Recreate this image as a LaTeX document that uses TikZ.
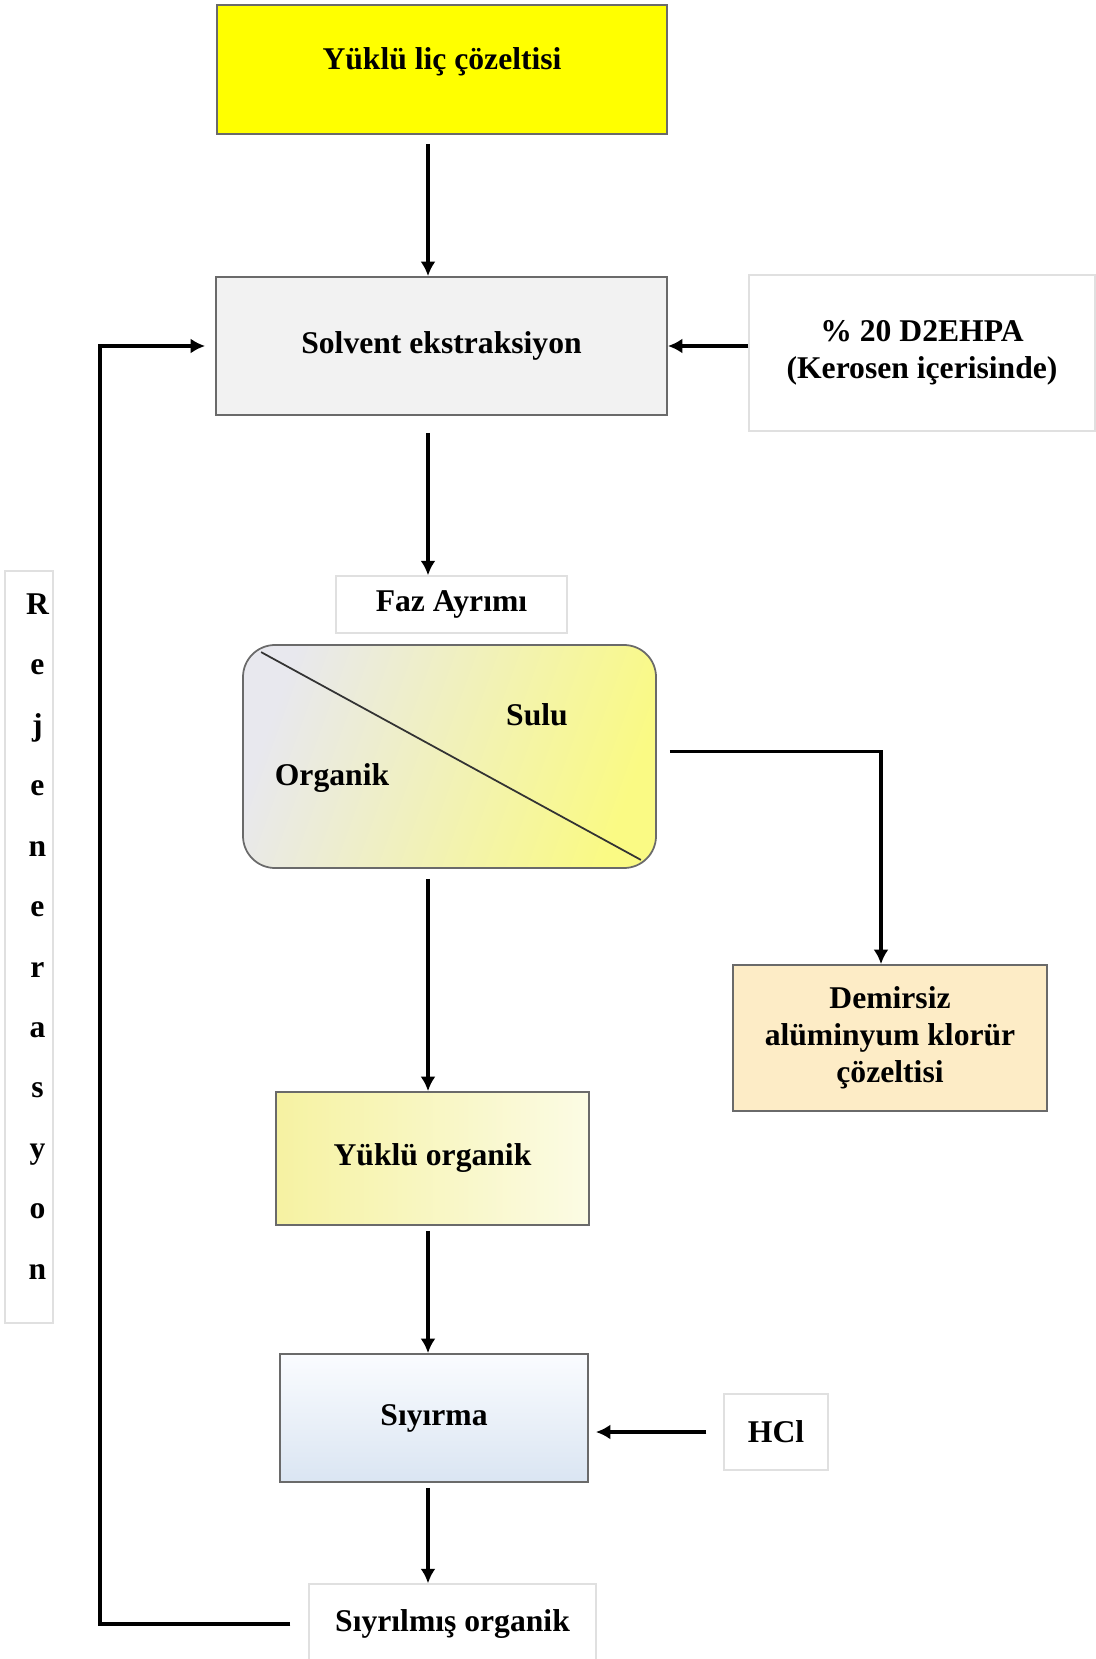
\documentclass[tikz,border=0pt]{standalone}
\usepackage{fontspec}
\setmainfont{Liberation Serif}
\usepackage{xcolor}
\usepackage{tikz}
\usetikzlibrary{arrows.meta}
\definecolor{feed}{HTML}{FFFF00}
\definecolor{solv}{HTML}{F2F2F2}
\definecolor{edge}{HTML}{6A6A6A}
\definecolor{soft}{HTML}{E0E0E0}
\definecolor{sepL}{HTML}{E8E8EE}
\definecolor{sepR}{HTML}{FAFA84}
\definecolor{orgL}{HTML}{F6F2A2}
\definecolor{orgR}{HTML}{FBFBE4}
\definecolor{peach}{HTML}{FDECC6}
\definecolor{stripT}{HTML}{FAFCFF}
\definecolor{stripB}{HTML}{DAE5F2}
\tikzset{
  lab/.style={font=\fontsize{18}{21}\selectfont\bfseries, align=center},
  box/.style={lab, draw=edge, line width=1pt, inner sep=0pt},
  softBox/.style={lab, draw=soft, fill=white, line width=0.8pt, inner sep=0pt},
  arr/.style={line width=1.9pt, -{Latex[length=2.9mm,width=3mm]}}
}

\begin{document}
\begin{tikzpicture}
\useasboundingbox (0,0) rectangle (21.9,-33.18);
\coordinate (ax) at (8.56,0);
\coordinate (rx) at (2.0,0);

\node[box, fill=feed, minimum width=9.0cm, minimum height=2.58cm, text height=0.45cm, text depth=0.45cm] (feed) at (8.84,-1.39) {Yüklü liç çözeltisi};
\node[box, fill=solv, minimum width=9.02cm, minimum height=2.76cm] (solvent) at (8.83,-6.92) {Solvent ekstraksiyon};
\node[softBox, minimum width=6.92cm, minimum height=3.12cm] (d2ehpa) at (18.44,-7.06) {\% 20 D2EHPA\\(Kerosen içerisinde)};
\node[softBox, minimum width=4.62cm, minimum height=1.14cm] (faz) at (9.03,-12.09) {Faz Ayrımı};

\node[box, rounded corners=0.64cm, left color=sepL, right color=sepR, shading angle=70,
      minimum width=8.26cm, minimum height=4.46cm] (sep) at (8.99,-15.13) {};
\draw[line width=1pt, draw=black!80] ([shift={(0.38,-0.16)}]sep.north west) -- ([shift={(-0.32,0.18)}]sep.south east);
\node[lab] (sulu) at (10.74,-14.30) {Sulu};
\node[lab] (organik) at (6.64,-15.56) {Organik};

\node[box, fill=peach, minimum width=6.28cm, minimum height=2.92cm] (demir) at (17.8,-20.76) {Demirsiz\\alüminyum klorür\\çözeltisi};
\node[box, left color=orgL, right color=orgR, minimum width=6.26cm, minimum height=2.66cm] (yorg) at (8.65,-23.17) {Yüklü organik};
\node[box, top color=stripT, bottom color=stripB, minimum width=6.16cm, minimum height=2.56cm] (siyirma) at (8.68,-28.36) {Sıyırma};
\node[softBox, minimum width=2.08cm, minimum height=1.52cm] (hcl) at (15.52,-28.64) {HCl};
\node[softBox, minimum width=5.74cm, minimum height=1.6cm] (siyorg) at (9.05,-32.48) {Sıyrılmış organik};

\draw[draw=soft, line width=0.8pt] (0.1,-11.42) rectangle (1.06,-26.46);
\node[lab, font=\fontsize{18}{34.4}\selectfont\bfseries] (rejen) at (0.75,-18.73)
  {R\\e\\j\\e\\n\\e\\r\\a\\s\\y\\o\\n};

\draw[arr] ([yshift=-0.18cm]feed.south -| ax) -- (solvent.north -| ax);
\draw[arr] (d2ehpa.west |- solvent.east) -- (solvent.east);
\draw[arr] ([yshift=-0.34cm]solvent.south -| ax) -- (faz.north -| ax);
\draw[arr] ([xshift=0.26cm,yshift=0.1cm]sep.east) -| ([xshift=-0.18cm]demir.north);
\draw[arr] ([yshift=-0.2cm]sep.south -| ax) -- (yorg.north -| ax);
\draw[arr] ([yshift=-0.1cm]yorg.south -| ax) -- (siyirma.north -| ax);
\draw[arr] ([xshift=-0.34cm]hcl.west) -- ([xshift=0.14cm]siyirma.east |- hcl.west);
\draw[arr] ([yshift=-0.1cm]siyirma.south -| ax) -- (siyorg.north -| ax);
\draw[arr] ([xshift=-0.36cm]siyorg.west) -- (siyorg.west -| rx) |- ([xshift=-0.2cm]solvent.west);
\end{tikzpicture}
\end{document}
